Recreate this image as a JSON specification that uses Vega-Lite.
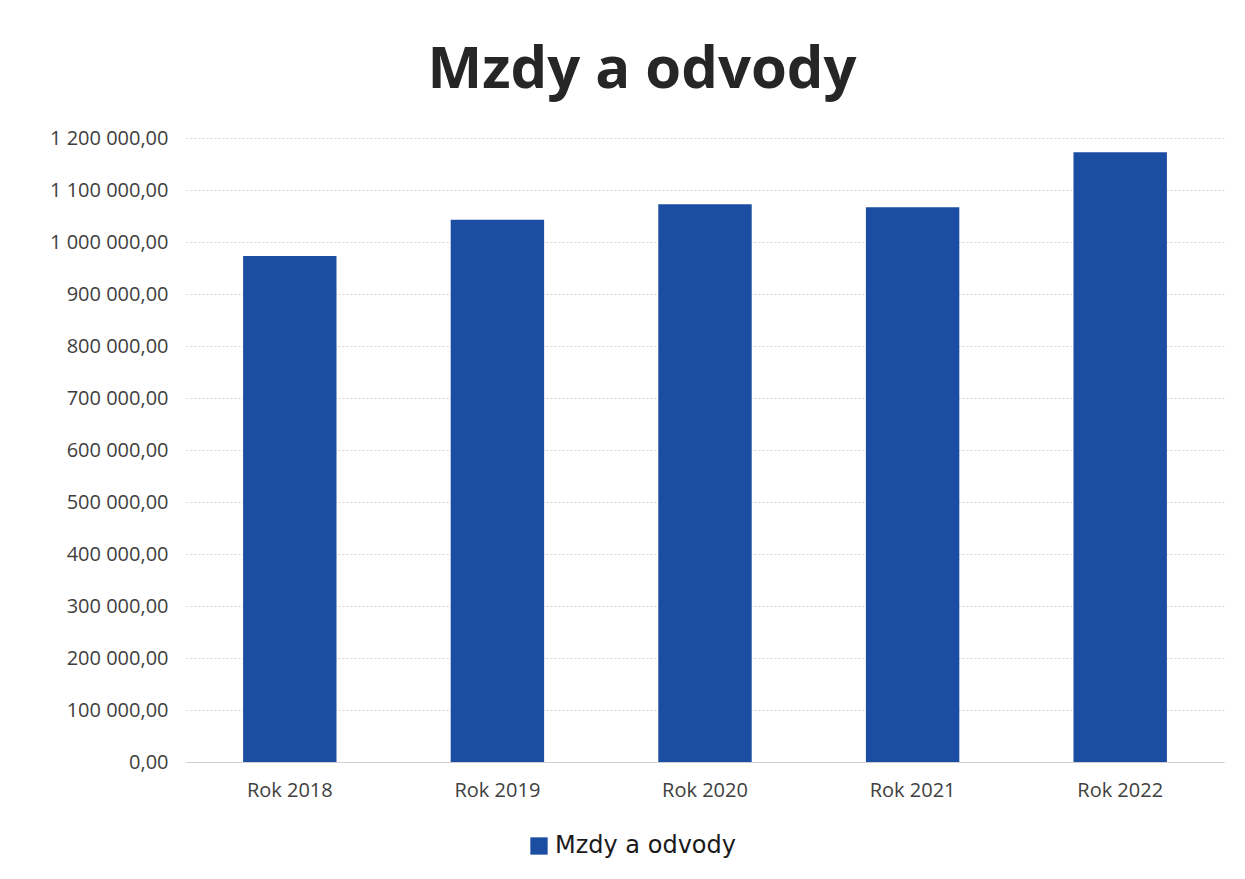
{
  "$schema": "https://vega.github.io/schema/vega-lite/v6.json",
  "autosize": {"type": "none"},
  "width": 1038,
  "height": 624,
  "padding": {"left": 186, "top": 138, "right": 21, "bottom": 117},
  "background": "white",
  "config": {
    "locale": {"number": {"decimal": ",", "thousands": " ", "grouping": [3], "currency": ["", ""]}},
    "view": {"stroke": null},
    "font": "Open Sans"
  },
  "title": {
    "text": "Mzdy a odvody",
    "fontSize": 58,
    "fontWeight": "bold",
    "font": "Open Sans",
    "color": "#262626",
    "anchor": "middle",
    "dx": -63,
    "offset": 28
  },
  "data": {
    "values": [
      {"rok": "Rok 2018", "serie": "Mzdy a odvody", "hodnota": 973000},
      {"rok": "Rok 2019", "serie": "Mzdy a odvody", "hodnota": 1043000},
      {"rok": "Rok 2020", "serie": "Mzdy a odvody", "hodnota": 1072500},
      {"rok": "Rok 2021", "serie": "Mzdy a odvody", "hodnota": 1066700},
      {"rok": "Rok 2022", "serie": "Mzdy a odvody", "hodnota": 1172500}
    ]
  },
  "mark": {"type": "bar"},
  "encoding": {
    "x": {
      "field": "rok",
      "type": "nominal",
      "title": null,
      "scale": {"paddingInner": 0.55, "paddingOuter": 0.275},
      "axis": {
        "labelAngle": 0,
        "labelFontSize": 20,
        "labelColor": "#404040",
        "labelPadding": 18,
        "ticks": false,
        "domainColor": "#d0d0d0",
        "grid": false
      }
    },
    "y": {
      "field": "hodnota",
      "type": "quantitative",
      "title": null,
      "scale": {"domain": [0, 1200000], "nice": false},
      "axis": {
        "values": [0, 100000, 200000, 300000, 400000, 500000, 600000, 700000, 800000, 900000, 1000000, 1100000, 1200000],
        "format": ",.2f",
        "labelFontSize": 20,
        "labelColor": "#404040",
        "labelPadding": 18,
        "ticks": false,
        "domain": false,
        "gridColor": "#d6d6d6",
        "gridDash": [2, 2]
      }
    },
    "color": {
      "field": "serie",
      "type": "nominal",
      "scale": {"range": ["#1b4ea2"]},
      "legend": {
        "title": null,
        "orient": "none",
        "legendX": 341,
        "legendY": 696,
        "symbolType": "square",
        "symbolSize": 300,
        "labelFontSize": 24,
        "labelLimit": 400,
        "labelColor": "#1a1a1a",
        "labelFont": "DejaVu Sans"
      }
    }
  }
}
